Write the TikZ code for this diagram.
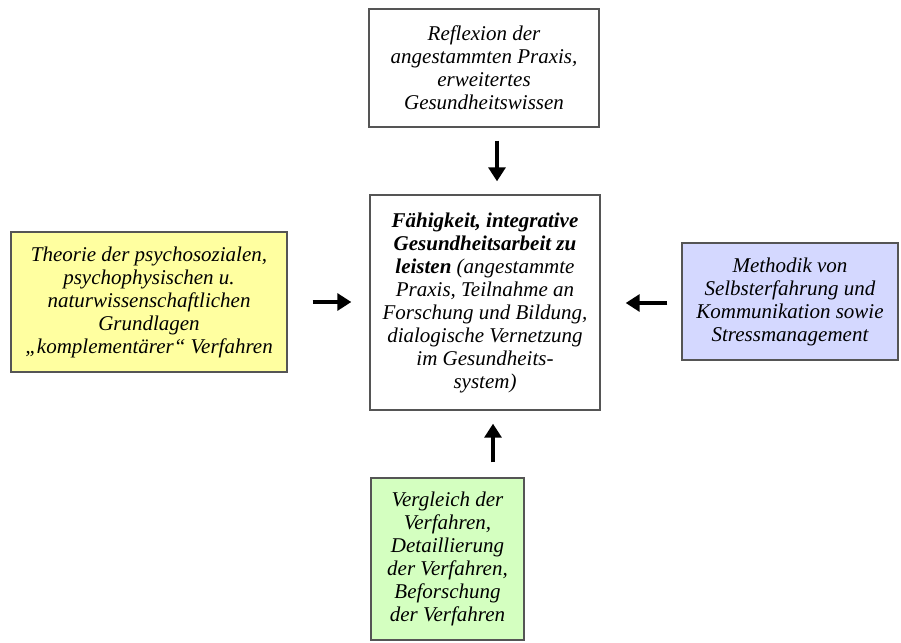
\documentclass[tikz,border=0pt]{standalone}
\usepackage{fontspec}
\setmainfont{Liberation Serif}
\usetikzlibrary{arrows.meta}
\definecolor{boxyellow}{RGB}{255,255,160}
\definecolor{boxblue}{RGB}{212,216,255}
\definecolor{boxgreen}{RGB}{212,255,192}
\definecolor{boxline}{RGB}{85,85,85}
\tikzset{
    field/.style={draw=boxline, line width=1.4pt, align=center, inner sep=0pt,
        font=\fontsize{21}{23}\selectfont\itshape},
    pfeil/.style={-{Triangle[length=14pt,width=17pt]}, line width=3.2pt}
}
\begin{document}
\begin{tikzpicture}[x=1pt,y=-1pt]
        \useasboundingbox (0,0) rectangle (901,642);
        \node[field, fill=white, minimum width=230pt, minimum height=118pt] (reflexion) at (484,68)
            {Reflexion der\\angestammten Praxis,\\erweitertes\\Gesundheitswissen};
        \node[field, fill=white, minimum width=230pt, minimum height=215pt] (faehigkeit) at (485,302.5)
            {\textbf{Fähigkeit, integrative}\\\textbf{Gesundheitsarbeit zu}\\\textbf{leisten} (angestammte\\Praxis, Teilnahme an\\Forschung und Bildung,\\dialogische Vernetzung\\im Gesundheits-\\system)};
        \node[field, fill=boxyellow, minimum width=276pt, minimum height=140pt] (theorie) at (149,302)
            {Theorie der psychosozialen,\\psychophysischen u.\\naturwissenschaftlichen\\Grundlagen\\„komplementärer“ Verfahren};
        \node[field, fill=boxblue, minimum width=216pt, minimum height=117pt] (methodik) at (790,301.5)
            {Methodik von\\Selbsterfahrung und\\Kommunikation sowie\\Stressmanagement};
        \node[field, fill=boxgreen, minimum width=153pt, minimum height=162pt] (vergleich) at (447.5,559)
            {Vergleich der\\Verfahren,\\Detaillierung\\der Verfahren,\\Beforschung\\der Verfahren};

        \draw[pfeil, shorten <=13pt, shorten >=13pt] ([xshift=13pt]reflexion.south) -- ([xshift=13pt]reflexion.south |- faehigkeit.north);
        \draw[pfeil, shorten <=15pt, shorten >=13pt] ([xshift=8pt]faehigkeit.south |- vergleich.north) -- ([xshift=8pt]faehigkeit.south);
        \draw[pfeil, shorten <=25pt, shorten >=18pt] (theorie.east) -- (theorie.east -| faehigkeit.west);
        \draw[pfeil, shorten <=14pt, shorten >=25pt] ([yshift=-1.5pt]methodik.west) -- ([yshift=-1.5pt]methodik.west -| faehigkeit.east);
    \end{tikzpicture}
\end{document}
